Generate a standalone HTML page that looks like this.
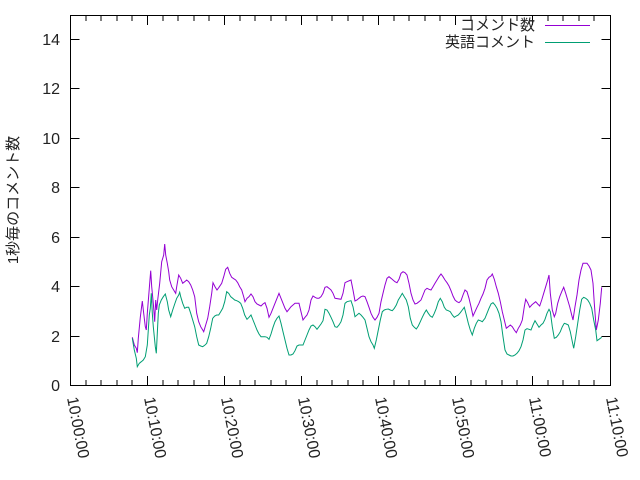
<!DOCTYPE html>
<html><head><meta charset="utf-8"><style>
html,body{margin:0;padding:0;background:#fff;}
svg{display:block;font-family:"Liberation Sans","Noto Sans CJK JP",sans-serif;}
</style></head><body>
<svg width="640" height="480" viewBox="0 0 640 480" xmlns="http://www.w3.org/2000/svg">
<rect width="640" height="480" fill="#fff"/>
<g stroke="#000" stroke-width="1" fill="none">
<rect x="70.5" y="15.5" width="540" height="370"/>
<path d="M70.5 336.5h9M70.5 286.5h9M70.5 237.5h9M70.5 187.5h9M70.5 138.5h9M70.5 88.5h9M70.5 39.5h9
M610.5 336.5h-9M610.5 286.5h-9M610.5 237.5h-9M610.5 187.5h-9M610.5 138.5h-9M610.5 88.5h-9M610.5 39.5h-9"/>
<path d="M147.5 385v-9M224.5 385v-9M301.5 385v-9M378.5 385v-9M455.5 385v-9M532.5 385v-9
M147.5 16v9M224.5 16v9M301.5 16v9M378.5 16v9M455.5 16v9M532.5 16v9"/>
<path d="M86 385v-5M101 385v-5M117 385v-5M132 385v-5M163 385v-5M178 385v-5M194 385v-5M209 385v-5M240 385v-5M255 385v-5M271 385v-5M286 385v-5M317 385v-5M332 385v-5M348 385v-5M363 385v-5M394 385v-5M409 385v-5M425 385v-5M440 385v-5M471 385v-5M486 385v-5M502 385v-5M517 385v-5M548 385v-5M563 385v-5M579 385v-5M594 385v-5
M86 16v5M101 16v5M117 16v5M132 16v5M163 16v5M178 16v5M194 16v5M209 16v5M240 16v5M255 16v5M271 16v5M286 16v5M317 16v5M332 16v5M348 16v5M363 16v5M394 16v5M409 16v5M425 16v5M440 16v5M471 16v5M486 16v5M502 16v5M517 16v5M548 16v5M563 16v5M579 16v5M594 16v5"/>
</g>
<g font-size="16" fill="#222" text-anchor="end">
<text x="60" y="391">0</text>
<text x="60" y="342">2</text>
<text x="60" y="292">4</text>
<text x="60" y="243">6</text>
<text x="60" y="193">8</text>
<text x="60" y="144">10</text>
<text x="60" y="94">12</text>
<text x="60" y="45">14</text>
</g>
<g font-size="16" fill="#222">
<text transform="translate(67,398) rotate(79)">10:00:00</text>
<text transform="translate(144,398) rotate(79)">10:10:00</text>
<text transform="translate(221,398) rotate(79)">10:20:00</text>
<text transform="translate(298,398) rotate(79)">10:30:00</text>
<text transform="translate(375,398) rotate(79)">10:40:00</text>
<text transform="translate(452,398) rotate(79)">10:50:00</text>
<text transform="translate(529,398) rotate(79)">11:00:00</text>
<text transform="translate(606,398) rotate(79)">11:10:00</text>
</g>
<text transform="translate(18,200) rotate(-90)" font-size="15" fill="#222" text-anchor="middle">1秒毎のコメント数</text>
<g font-size="15" fill="#222" text-anchor="end">
<text x="535" y="30">コメント数</text>
<text x="535" y="47">英語コメント</text>
</g>
<path d="M545 25.5h45" stroke="#9400d3"/>
<path d="M545 42.5h45" stroke="#009e73"/>
<polyline fill="none" stroke="#9400d3" stroke-width="1" points="132.3,337.3 134.3,345 136.3,348.3 137.3,352.7 138.3,338.3 140.3,317.3 142.3,301 143.3,310 145.3,326.7 146.3,330 147.3,313.3 149.3,288.3 150.7,270.7 151.7,286.7 153.3,303.3 154.7,321.7 155.7,300 156.7,310 157.7,300 159.7,283.3 161.7,261.7 163.7,255 164.7,244 165.7,255 167.3,263.3 168.7,271.7 169.7,280 171.7,286.7 174.7,291.7 175.7,293.3 176.7,286.7 178.7,275 180.7,278.3 182.7,283.3 184.7,281.7 186.7,280 188.7,281.7 190.7,285 192.7,290 194.7,296.7 196.7,313.3 198.7,321.7 200.7,326.7 202.7,330 203.7,331.7 205.7,325 207.7,318.3 209.7,306.7 211.7,293.3 213,282.7 215,286.7 217,290 219,287.3 221.7,283.3 223.7,276.7 225.7,269.3 227.7,267.3 229.7,273.3 231.7,277.3 233.7,278.7 235.7,280 237.7,282.7 239.7,286.7 241.7,290 243.7,296.7 245,301.7 247,298.3 249,296.7 251,294 253,296.7 255,301.7 257,304 259,305 261,306 263,304 265,302.7 267,308.3 269,317.3 271,313.3 273,308.3 275,303.3 277,298.3 279,293.3 281,298.3 283,303.3 285,308.3 287,311.7 289,309.3 291,306.7 293,305 295,303.3 299,303.3 301,311.7 303,320 305,317.3 307,315 309,310 311,300 313,296 315,297.3 317,298.3 319,298.3 321,296.7 323,293.3 325,287.3 327,286.7 329,288.3 331,290 333,293.3 335,298.3 341,299.3 343,293.3 345,282.7 347,281.7 351,280 353,290 355,301 357,300 359,298.3 361,296.7 363,296 365,296.7 367,301.7 369,307.3 371,313.3 373,317.3 375,320 377,317.3 379,313.3 381,301.7 383,293.3 385,285 387,278.3 389,276.7 391,278.3 393,280 395,281.7 397,282.7 399,279.3 401,273.3 403,271.7 405,272.7 407,275 409,283.3 411,293.3 413,300 415,304 417,303.3 419,301.7 421,300 423,295 425,290 427,288.3 429,289.3 431,290 433,286.7 435,283.3 437,280 439,276.7 441,274 443,276.7 445,280 447,282.7 449,286 451,290.7 453,296 455,300 457,301.7 459,302.7 461,300.7 463,295 465,290 467,291.7 469,298.3 471,306.7 473,316 475,311.7 477,307.3 479,303.3 481,298.3 483,294 485,288.3 487,280 489,277.3 491,276 492.3,274 494.3,279.3 496.3,286.7 498.3,293.3 500.3,301.7 502.3,311.7 504.3,320 506.3,328.3 508.3,326.7 510.3,325 512.3,326.7 514.3,330 516.3,332.7 518.3,328.3 520.3,325 522.3,320 524.3,306.7 525.7,299.3 527.7,302.7 529.7,307.3 531.7,305 533.7,303.3 535.7,301.7 537.7,304 539.7,306 541.7,300 543.7,293.3 545.7,286.7 547.7,280 549,275 550.3,293.3 552.3,310 554.3,316.7 555.7,313.3 557.7,303.3 559.7,296.7 561.7,291.7 563.7,287.3 565.7,293.3 567.7,300 569.7,306.7 571.7,315 573,320 575,306.7 577,295 579,280 581,270 583,263.3 587,263.3 589,266 591,270 593,283.3 594.3,303.3 596.3,330 598.3,320 600.3,303.3 601.7,287.3"/>
<polyline fill="none" stroke="#009e73" stroke-width="1" points="132.3,338.3 134.3,350 136.3,358.3 137.3,366.7 139.3,363.3 141.3,361.7 143.3,360 145.3,356.7 147.3,345 148.3,330 149.3,315 150.3,308.3 151.3,293.3 152.3,313.3 153.3,326.7 155.3,346.7 156.3,353.3 157.3,333.3 158.3,313.3 159.3,305 161.3,300 163.3,296.7 165.3,294 167.3,301.7 168.7,310 170.7,316.7 172.7,310 174.7,304 176.7,298.3 178.7,295 179.7,292.3 180.7,296.7 182.7,303.3 184.7,308.3 186.7,307.3 188.7,307.3 190.7,313.3 192.7,320 194.7,326.7 196.7,336.7 198.7,345 200.7,346 202.7,346.7 204.7,345.3 206.7,343.3 208.7,336.7 210.7,328.3 212.7,318.3 214.7,316 216.7,315 218.7,315 220.7,311.7 222.7,308.3 224.7,301.7 226.7,291.7 228.7,293.3 230.7,296.7 232.7,298.3 234.7,300 236.7,300.7 238.7,301.7 240.7,303.3 242.7,308.3 244.7,315 247,319.3 249,317.3 251,315 253,320 255,325 257,330 259,334 261,336.7 265,336.7 267,337.3 269,339.3 271,334 273,327.3 275,321.7 277,318.3 279,316 281,323.3 283,331.7 285,340 287,348.3 289,355 291,355 293,354 295,350.7 297,346 299,345 303,345 305,340 307,335 309,330 311,326 313,325 315,326.7 317,329.3 319,326.7 321,324 323,320.7 325,309.3 327,310 329,313.3 331,317.3 333,321.7 335,326.7 337,327.3 339,325 341,321.7 343,315 345,303.3 347,301.7 351,300.7 353,306.7 355,316.7 357,315 359,313.3 361,315 363,317.3 365,320 367,328.3 369,336.7 371,341.7 373,345 374.3,348.3 376.3,340 378.3,330 380.3,320 382.3,311.7 384.3,310 386.3,309.3 388.3,309 390.3,310 392.3,310.7 394.3,308.3 396.3,305 398.3,300 400.3,296.7 402.3,293.3 404.3,296.7 406.3,300 408.3,306.7 410.3,318.3 412.3,325 414.3,327.3 416.3,329 418.3,326 420.3,321.7 422.3,317.3 424.3,313.3 426.3,310 428.3,313.3 430.3,316 432.3,317.3 434.3,313.3 436.3,308.3 438.3,301.7 440.3,298.3 442.3,301.7 444.3,307.3 446.3,310 448.3,310.7 450.3,311.7 452.3,315 454.3,317.3 456.3,316 458.3,315 460.3,312.7 462.3,310 464.3,307.3 466.3,315 468.3,323.3 470.3,330 472.3,335 474.3,328.3 476.3,323.3 478.3,320 480.3,320.7 482.3,321.7 485,318.3 487,313.3 489,308.3 491,304 493,302.7 495,305 497,308.3 499,313.3 501,321.7 503,336.7 505,350 507,354 509,355 511,356 513,356 515,355 517,353.3 519,350.7 521,346.7 523,340 525,330 527,328.7 529,329.3 531,330 533,325 535,320.7 537,324 539,327.3 541,325 543,323.3 545,319.3 547,313.3 549,309.3 550.3,311.7 552.3,326.7 554.3,338.3 556.3,337.3 558.3,335 560.3,331.7 562.3,326.7 564.3,323.3 566.3,324 568.3,325 570.3,331.7 572.3,341.7 573.7,348.3 575.7,336.7 577.7,323.3 579.7,310 581.7,299.3 583.7,297.3 585.7,298.3 587.7,300 589.7,303.3 591.7,308.3 593.7,320 595.7,330 597,340.7 599,339.3 601.7,337.3"/>
</svg>
</body></html>
